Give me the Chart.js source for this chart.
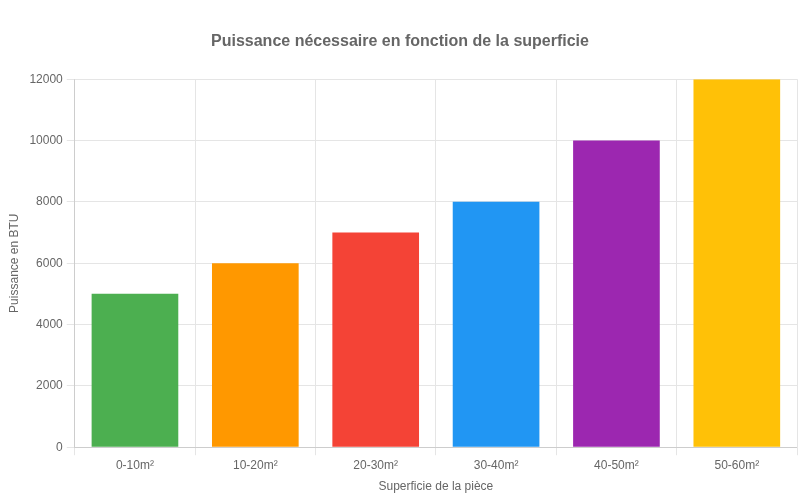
<!DOCTYPE html>
<html>
<head>
  <style>
    html, body { margin: 0; padding: 0; background: #fff; }
    #wrap { width: 800px; height: 500px; }
  </style>
</head>
<body>
  <div id="wrap"><canvas id="chart"></canvas></div>
  <script src="https://cdn.jsdelivr.net/npm/chart.js"></script>
  <script>
    const categories = ['0-10m²', '10-20m²', '20-30m²', '30-40m²', '40-50m²', '50-60m²'];
    const btuValues = [5000, 6000, 7000, 8000, 10000, 12000];
    const barColors = ['#4CAF50', '#FF9800', '#F44336', '#2196F3', '#9C27B0', '#FFC107'];

    Chart.defaults.font.family = '"Liberation Sans", Arial, sans-serif';
    Chart.defaults.color = '#666';

    const chart = new Chart(document.getElementById('chart'), {
      type: 'bar',
      data: {
        labels: categories,
        datasets: [{
          label: 'Puissance (BTU)',
          data: btuValues,
          backgroundColor: barColors,
          borderWidth: 0
        }]
      },
      options: {
        responsive: true,
        maintainAspectRatio: false,
        animation: false,
        layout: { padding: { left: 3, right: 3, top: 22, bottom: 2 } },
        plugins: {
          legend: { display: false },
          title: {
            display: true,
            text: 'Puissance nécessaire en fonction de la superficie',
            font: { size: 16, weight: 'bold' },
            color: '#666',
            padding: { top: 10, bottom: 28 }
          }
        },
        scales: {
          x: {
            title: { display: true, text: 'Superficie de la pièce', font: { size: 12 } },
            ticks: { font: { size: 12 } },
            grid: { color: '#e5e5e5' }
          },
          y: {
            min: 0,
            max: 12000,
            ticks: {
              stepSize: 2000,
              font: { size: 12 },
              padding: 4,
              callback: function (value) { return String(value); }
            },
            title: { display: true, text: 'Puissance en BTU', font: { size: 12 } },
            grid: { color: '#e5e5e5' }
          }
        }
      }
    });
  </script>
</body>
</html>
